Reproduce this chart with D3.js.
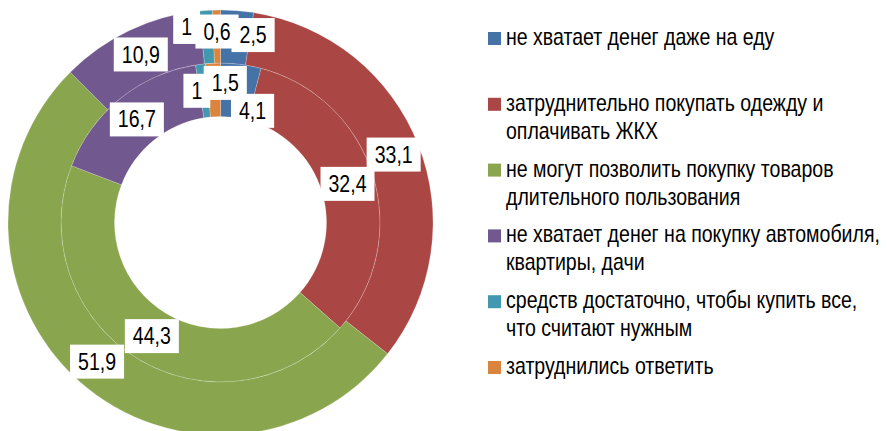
<!DOCTYPE html>
<html>
<head>
<meta charset="utf-8">
<script src="https://cdn.jsdelivr.net/npm/d3@7"></script>
<style>
  html, body { margin: 0; padding: 0; background: #fff; }
  svg { display: block; }
  text { font-family: "Liberation Sans Narrow", "Arial Narrow", "Liberation Sans", Arial, sans-serif; fill: #000; }
</style>
</head>
<body>
<div id="chart"></div>
<script>
//////////////////////////// data /////////////////////////////////////////

const categories = [
  "не хватает денег даже на еду",
  "затруднительно покупать одежду и оплачивать ЖКХ",
  "не могут позволить покупку товаров длительного пользования",
  "не хватает денег на покупку автомобиля, квартиры, дачи",
  "средств достаточно, чтобы купить все, что считают нужным",
  "затруднились ответить"
];

const innerValues = [4.1, 32.4, 44.3, 16.7, 1, 1.5];
const outerValues = [2.5, 33.1, 51.9, 10.9, 1, 0.6];

const colors = ["#4572A7", "#AA4643", "#89A54E", "#71588F", "#4198AF", "#DB843D"];

//////////////////////////// layout ///////////////////////////////////////

const width = 887;
const height = 431;
const cx = 220.5;
const cy = 222.5;
const rHole = 106;
const rMid = 159.5;
const rOuter = 212.5;

// small slices: labels pushed aside like excel does (px from centroid)
const innerNudge = { 0: [15, 20], 4: [-7, 0], 5: [11, -7] };
const outerNudge = { 0: [18, -2], 4: [-21, -10], 5: [0, -5] };

const fontSize = 23;
// no narrow font installed -> squeeze the regular one
const squeeze = 0.85;

//////////////////////////// svg //////////////////////////////////////////

const svg = d3.select("#chart").append("svg")
  .attr("width", width)
  .attr("height", height);

const pie = d3.pie().sort(null).value(d => d);

const rings = [
  { values: innerValues, r0: rHole, r1: rMid, nudge: innerNudge },
  { values: outerValues, r0: rMid, r1: rOuter, nudge: outerNudge }
];

const g = svg.append("g").attr("transform", `translate(${cx},${cy})`);

rings.forEach(ring => {
  const arc = d3.arc().innerRadius(ring.r0).outerRadius(ring.r1);
  g.append("g").selectAll("path")
    .data(pie(ring.values))
    .join("path")
    .attr("d", arc)
    .attr("fill", (d, i) => colors[i])
    .attr("stroke", "#fff")
    .attr("stroke-width", 0.4)
    .attr("stroke-opacity", 0.5);
});

//////////////////////////// labels ////////////////////////////////////////

rings.forEach(ring => {
  const arc = d3.arc().innerRadius(ring.r0).outerRadius(ring.r1);
  const lg = g.append("g");
  pie(ring.values).forEach((d, i) => {
    const c = arc.centroid(d);
    const n = ring.nudge[i] || [0, 0];
    const x = c[0] + n[0];
    const y = c[1] + n[1];
    const item = lg.append("g").attr("transform", `translate(${x},${y})`);
    const rect = item.append("rect").attr("fill", "#fff");
    const t = item.append("text")
      .attr("text-anchor", "middle")
      .attr("dy", "0.35em")
      .attr("transform", `scale(${squeeze},1)`)
      .style("font-size", fontSize + "px")
      .text(String(d.data).replace(".", ","));
    const w = t.node().getComputedTextLength() * squeeze;
    rect.attr("x", -w / 2 - 8).attr("y", -17).attr("width", w + 16).attr("height", 34);
  });
});

//////////////////////////// legend ////////////////////////////////////////

const legendX = 488;
const legendTop = 32;
const legendStep = 65.8;
const lineH = 28;
const wrapW = 380 / squeeze;

const legend = svg.append("g");

categories.forEach((name, i) => {
  const y0 = legendTop + i * legendStep;
  legend.append("rect")
    .attr("x", legendX).attr("y", y0)
    .attr("width", 13).attr("height", 13)
    .attr("fill", colors[i]);

  const t = legend.append("text")
    .attr("transform", `translate(${legendX + 18},${y0 + 13}) scale(${squeeze},1)`)
    .style("font-size", fontSize + "px");

  // wrap words
  const words = name.split(" ");
  let line = [];
  let ts = t.append("tspan").attr("x", 0).attr("dy", 0);
  words.forEach(w => {
    line.push(w);
    ts.text(line.join(" "));
    if (ts.node().getComputedTextLength() > wrapW && line.length > 1) {
      line.pop();
      ts.text(line.join(" "));
      line = [w];
      ts = t.append("tspan").attr("x", 0).attr("dy", lineH).text(w);
    }
  });
});
</script>
</body>
</html>
